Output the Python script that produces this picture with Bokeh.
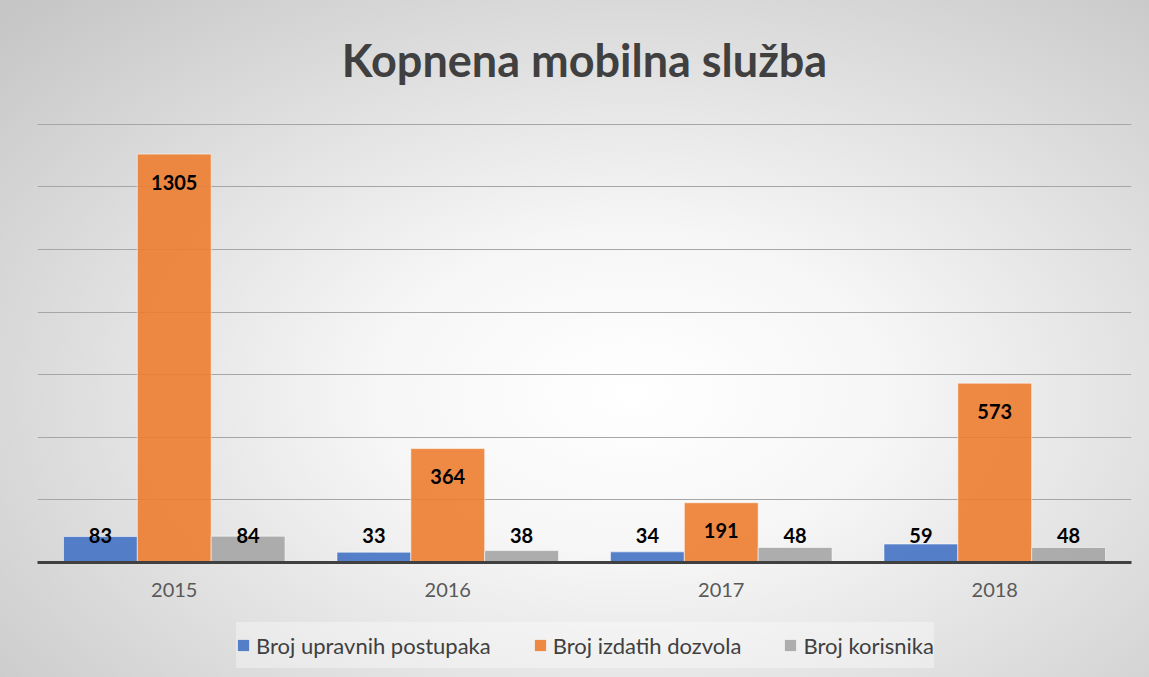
from bokeh.plotting import figure
from bokeh.models import ColumnDataSource, FactorRange, Range1d, FixedTicker, Legend, LegendItem
from bokeh.layouts import column
from bokeh.transform import dodge
from bokeh.core.properties import value
from bokeh.embed import file_html
from bokeh.resources import INLINE

# ---- data ----
years = ["2015", "2016", "2017", "2018"]
series_names = ["Broj upravnih postupaka", "Broj izdatih dozvola", "Broj korisnika"]
upravni_postupci = [83, 33, 34, 59]
izdate_dozvole = [1305, 364, 191, 573]
korisnici = [84, 38, 48, 48]
y_ticks = [200, 400, 600, 800, 1000, 1200, 1400]

colors = ["#4472C4", "#ED7D31", "#A5A5A5"]
offsets = [-0.27, 0.0, 0.27]
series_values = [upravni_postupci, izdate_dozvole, korisnici]

FONT = value("Lato")

p = figure(
    x_range=FactorRange(*years),
    y_range=Range1d(0, 1422),
    width=1149, height=605,
    output_backend="svg", toolbar_location=None,
    min_border_left=37, min_border_right=18,
    min_border_top=117, min_border_bottom=43,
    title="Kopnena mobilna služba",
)
p.border_fill_color = None
p.background_fill_color = None
p.outline_line_color = None

p.title.align = "center"
p.title.text_font = "Lato"
p.title.text_font_size = "45px"
p.title.text_font_style = "bold"
p.title.text_color = "#404040"
p.title.standoff = 61

# ---- legend strip (separate figure below the chart, same x range) ----
lf = figure(width=1149, height=72, output_backend="svg", toolbar_location=None,
            x_range=p.x_range, y_range=Range1d(-100001, -100000), min_border=0)
lf.border_fill_color = None
lf.background_fill_color = None
lf.outline_line_color = None
lf.axis.visible = False
lf.grid.visible = False

items = []
for name, vals, col, off in zip(series_names, series_values, colors, offsets):
    label_y = [max(v - 90, 85) for v in vals]
    src = ColumnDataSource(dict(year=years, val=vals, ly=label_y, txt=[str(v) for v in vals]))
    p.vbar(x=dodge("year", off, range=p.x_range), top="val", source=src, width=0.27,
           fill_color=col, fill_alpha=0.9, line_color="white", line_alpha=0.55, line_width=1)
    p.text(x=dodge("year", off, range=p.x_range), y="ly", text="txt", source=src,
           text_align="center", text_baseline="middle", text_font=FONT,
           text_font_style="bold", text_font_size="20px", text_color="black")
    # zero-size copy in the legend strip -> provides the legend swatch only
    r = lf.vbar(x=dodge("year", off, range=lf.x_range), top="val", bottom="val",
                source=src, width=0, fill_color=col, fill_alpha=0.9, line_color=None)
    items.append(LegendItem(label=name, renderers=[r]))

p.yaxis.visible = False
p.yaxis.ticker = FixedTicker(ticks=y_ticks)
p.ygrid.ticker = FixedTicker(ticks=y_ticks)
p.ygrid.grid_line_color = "#a6a6a6"
p.ygrid.grid_line_width = 1
p.xgrid.grid_line_color = None

xa = p.xaxis[0]
xa.axis_line_color = "#404040"
xa.axis_line_width = 3
xa.major_tick_line_color = None
xa.minor_tick_line_color = None
xa.major_label_text_font = "Lato"
xa.major_label_text_font_size = "20px"
xa.major_label_text_color = "#595959"
xa.major_label_standoff = 14

legend = Legend(items=items, orientation="horizontal", location=(199, 9),
                glyph_width=14, glyph_height=14, label_height=46, label_standoff=6, spacing=42,
                padding=11, margin=0,
                label_text_font="Lato", label_text_font_size="22px", label_text_color="#404040",
                background_fill_color="white", background_fill_alpha=0.35,
                border_line_color=None)
lf.add_layout(legend)

layout = column(p, lf, spacing=0)
layout.styles = {"background": "radial-gradient(ellipse 75% 80% at 55% 58%, #ffffff 0%, #f6f6f6 30%, #dedede 65%, #c6c6c6 100%)"}

open("out.html", "w").write(file_html(layout, INLINE))
